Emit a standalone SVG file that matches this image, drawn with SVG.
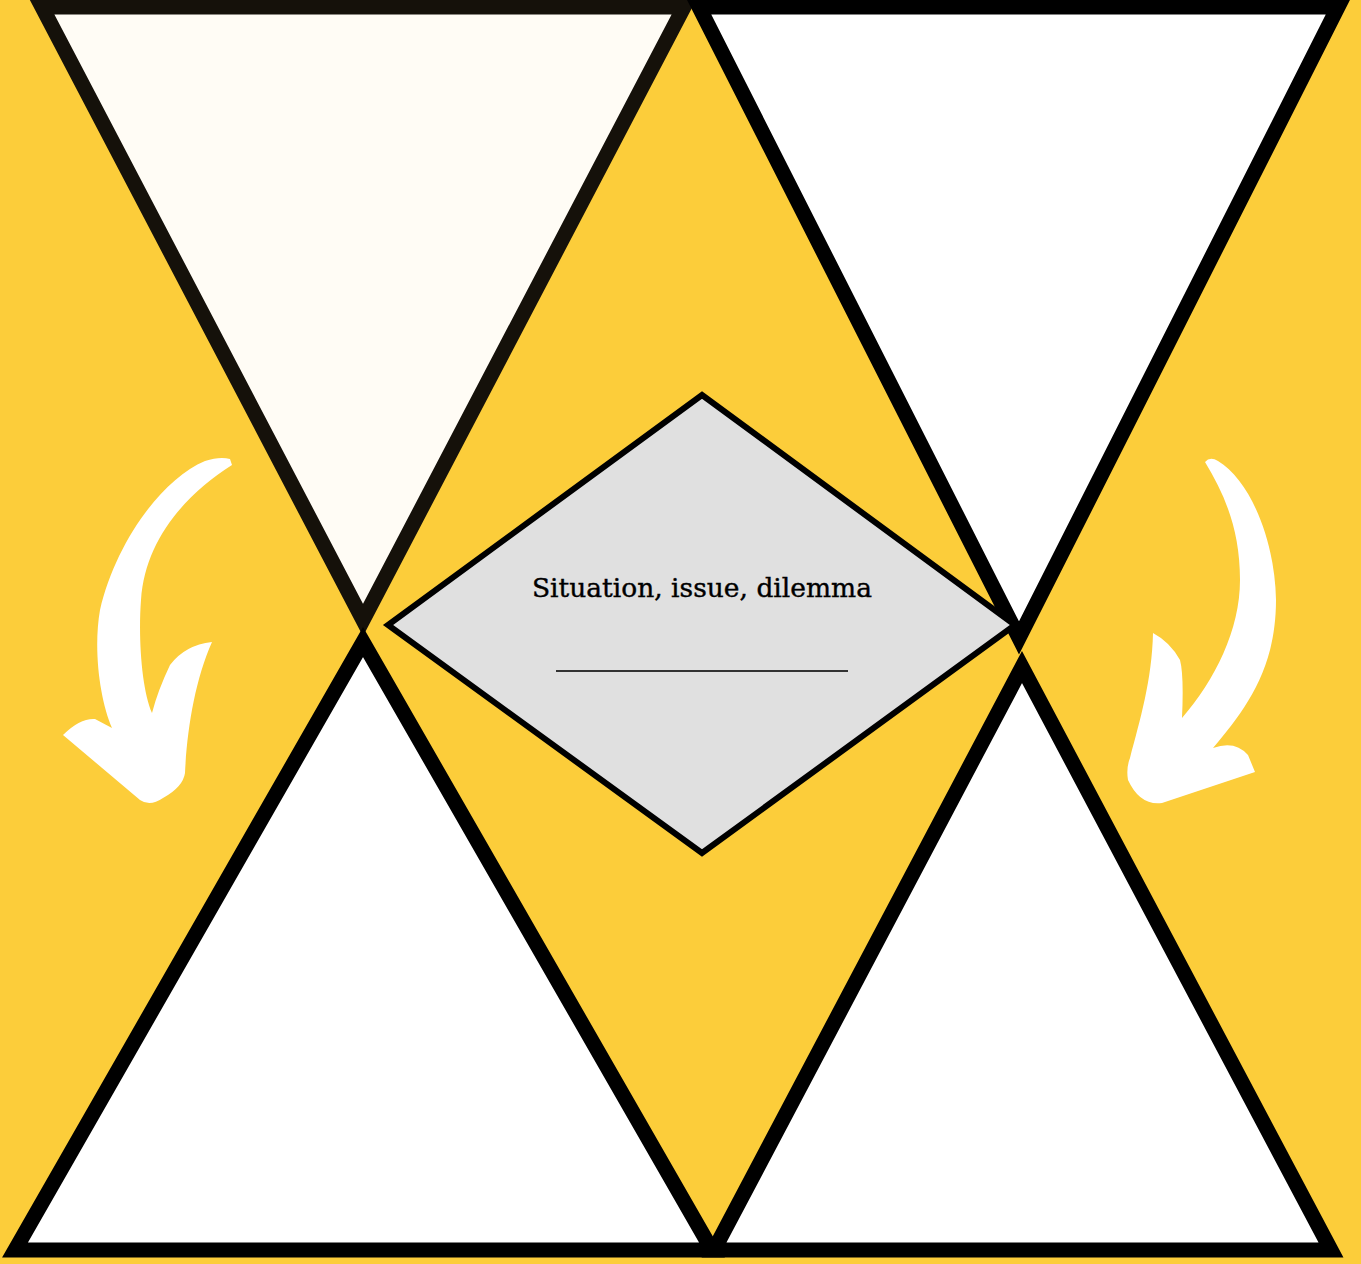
<svg xmlns="http://www.w3.org/2000/svg" width="1361" height="1264" viewBox="0 0 1361 1264">
  <style>
    .tri { stroke: #000; stroke-width: 15; stroke-linejoin: miter; fill: #FFFFFF; }
    .tri-cream { stroke: #15110A; fill: #FFFCF5; }
    .arrow { fill: #FFFFFF; stroke: none; }
    .label { font-family: "DejaVu Serif", "Liberation Serif", serif; font-size: 26.5px; fill: #000; stroke: #000; stroke-width: 0.4px; }
  </style>
  <rect x="0" y="0" width="1361" height="1264" fill="#FCCD3A"/>
  <g id="triangle-top-left">
    <polygon class="tri tri-cream" points="42,7 684,7 363,620"/>
  </g>
  <g id="triangle-top-right">
    <polygon class="tri" points="699,7 1338,7 1019,638"/>
  </g>
  <g id="triangle-bottom-left">
    <polygon class="tri" points="363,642 712,1250 15,1250"/>
  </g>
  <g id="triangle-bottom-right">
    <polygon class="tri" points="1022,667 1331,1250 714,1250"/>
  </g>
  <g id="arrows">
    <path id="arrow-left" class="arrow" d="M 230,459 Q 220,456 205,461 C 160,480 115,545 100,610 C 93,650 100,700 112,728 L 95,719 Q 80,718 63,735 L 140,800 Q 150,807 163,798 Q 183,787 185,773 C 187,730 195,680 212,642 Q 185,645 170,665 Q 158,690 152,713 C 142,690 138,640 141,600 C 145,540 185,495 232,465 Z"/>
    <path id="arrow-right" class="arrow" d="M 1205,462 Q 1210,456 1218,461 C 1250,480 1275,540 1276,600 C 1276,670 1245,710 1213,748 Q 1235,740 1248,755 L 1255,772 L 1162,803 Q 1140,806 1128,780 Q 1126,768 1130,758 C 1140,720 1152,680 1153,633 Q 1170,642 1180,660 Q 1184,675 1182,718 C 1215,680 1240,630 1240,580 C 1240,530 1225,495 1205,462 Z"/>
  </g>
  <g id="diamond-center">
    <polygon points="702,395 1015,625 702,853 388,625" fill="#E0E0E0" stroke="#000" stroke-width="6" stroke-linejoin="miter"/>
    <text class="label" x="702" y="597" text-anchor="middle">Situation, issue, dilemma</text>
    <line x1="556" y1="671" x2="848" y2="671" stroke="#333" stroke-width="2"/>
  </g>
</svg>
